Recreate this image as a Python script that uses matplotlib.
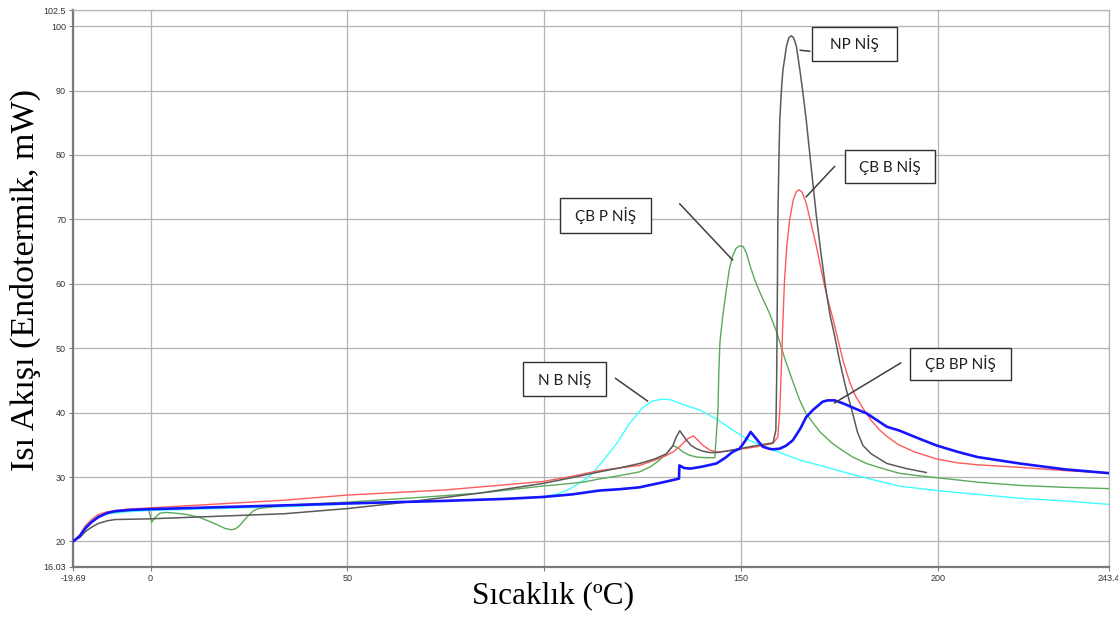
import matplotlib
matplotlib.use("Agg")
import matplotlib.pyplot as plt
from matplotlib.patches import Rectangle

# ---- datos ----
x_np = [-19.69, -18, -16.6, -15, -13.2, -11, -9, -0.5, 34, 50, 65, 83.6, 99.6, 107, 114,
        119, 124.2, 128, 131, 132.6, 133.5, 134.4, 135.2, 136.1, 137.3, 138.6, 140.3, 142,
        144, 146, 149.6, 154, 158.1, 158.8, 159.0, 159.2, 159.3, 159.6, 159.8, 160.2,
        160.6, 161.5, 162.1, 162.7, 163.3, 164, 164.9, 165.7, 166.5, 167.7, 169, 170.2,
        171.4, 172.6, 173.7, 175, 176.5, 178.3, 179.5, 180.9, 183, 187, 192, 197]
y_np = [20, 20.6, 21.5, 22.2, 22.8, 23.2, 23.4, 23.5, 24.3, 25.1, 26.1, 27.5, 29.0, 29.9, 30.8,
        31.4, 32.1, 32.8, 33.6, 34.8, 36.2, 37.2, 36.5, 35.7, 34.9, 34.4, 34.0, 33.8,
        33.8, 34.0, 34.4, 34.9, 35.3, 37.3, 45.0, 60.0, 69.9, 80.0, 85.5, 90.0,
        93.2, 96.9, 98.2, 98.5, 98.2, 96.9, 93.2, 89.5, 85.5, 78.5, 71.0, 65.0,
        59.5, 55.0, 52.0, 48.0, 44.0, 39.9, 37.0, 34.9, 33.6, 32.1, 31.3, 30.7]

x_cbb = [-19.69, -18, -16.6, -15, -13.2, -11, -6, -0.5, 34, 50, 75, 99.6, 107, 114, 119,
         124.2, 128, 130.5, 132.7, 134.5, 136.3, 137.8, 139, 140.3, 142, 143.7, 146, 149.6,
         154, 158, 159.3, 159.8, 160.2, 160.6, 161.0, 161.6, 162.3, 163.2, 164.0, 164.7,
         165.5, 166.5, 167.5, 169.1, 170.7, 172, 173.2, 174.5, 176, 177.5, 179, 181, 183,
         185, 187, 190, 194, 199.6, 205, 210, 220.7, 232, 243.4]
y_cbb = [20, 21.0, 22.4, 23.4, 24.2, 24.6, 25.0, 25.2, 26.4, 27.2, 28.0, 29.3, 30.1, 31.0, 31.4,
         31.8, 32.6, 33.2, 33.9, 34.8, 35.9, 36.4, 35.7, 34.9, 34.2, 33.9, 34.0, 34.3,
         34.7, 35.2, 36.2, 40.4, 47.0, 54.4, 60.6, 66.0, 69.9, 73.0, 74.3, 74.6,
         74.2, 72.5, 70.0, 65.8, 61.0, 57.5, 54.8, 51.5, 47.8, 44.8, 42.6, 40.6, 38.8,
         37.4, 36.3, 35.0, 33.9, 32.8, 32.2, 31.9, 31.5, 31.0, 30.6]

x_cbp = [-19.69, -18, -16.6, -15, -13.2, -11, -6, -0.5, 0.3, 1.3, 2.4, 4, 6.2, 9, 12.1, 15,
         17.2, 19, 20.6, 21.7, 22.7, 23.8, 24.8, 26, 27.4, 34, 50, 70, 83.6, 99.6, 105,
         109.8, 114, 119, 124.2, 127, 129, 131, 132.7, 134, 135.2, 136.8, 138.6, 141, 143.3,
         144.1, 144.3, 144.6, 145.3, 146.2, 147.0, 147.8, 148.7, 149.6, 150.5, 151.3, 152.3,
         153.5, 155, 157.2, 159, 161, 163, 164.8, 166.5, 168, 170, 173.2, 176, 178.3, 181.8,
         186, 190, 195, 199.6, 210, 220.7, 232, 243.4]
y_cbp = [20, 20.8, 22.0, 23.0, 23.9, 24.4, 24.8, 25.0, 23.0, 23.8, 24.4, 24.5, 24.4, 24.2, 23.8, 23.1,
         22.5, 22.0, 21.8, 22.0, 22.5, 23.3, 24.0, 24.7, 25.1, 25.6, 26.1, 26.9, 27.5, 28.6, 28.9,
         29.2, 29.7, 30.2, 30.8, 31.6, 32.5, 33.6, 34.9, 34.5, 33.9, 33.4, 33.1, 33.0, 33.0,
         40.4, 46.0, 51.0, 54.9, 59.0, 62.3, 64.3, 65.5, 65.9, 65.8, 64.8, 62.7,
         60.5, 58.3, 55.4, 52.5, 48.5, 45.0, 42.0, 39.8, 38.6, 37.0, 35.2, 34.0, 33.1, 32.1,
         31.3, 30.6, 30.2, 29.9, 29.2, 28.7, 28.4, 28.2]

x_nb = [-19.69, -18, -16.6, -15, -13.2, -11, -6, -0.5, 34, 50, 75, 99.6, 103, 105.7, 108.5,
        110.5, 112.3, 115, 118.4, 121.5, 125, 127.5, 130, 132, 135, 139.5, 144, 147.8, 152,
        158, 165, 170, 180, 190, 199.6, 210, 220.7, 232, 243.4]
y_nb = [20, 20.8, 22.0, 23.0, 23.8, 24.3, 24.6, 24.8, 25.4, 25.8, 26.3, 26.9, 27.3, 27.9, 28.9,
        29.7, 30.6, 32.6, 35.2, 38.2, 40.8, 41.8, 42.1, 42.0, 41.3, 40.4, 38.9, 37.3, 35.7,
        34.2, 32.6, 31.8, 30.1, 28.6, 27.9, 27.3, 26.7, 26.3, 25.75]

x_cbbp = [-19.69, -18, -16.6, -15, -13.2, -11, -9, -5, -0.5, 16.4, 34, 50, 75, 90, 99.6, 107,
          114, 119, 124.2, 128, 131, 134.2, 134.3, 135.5, 137, 140, 143.7, 146, 147.8, 149.6,
          151, 152.4, 154, 155.5, 157, 158, 159.8, 161.5, 163.1, 165, 166.5, 168.2, 170.7,
          172, 173.7, 176, 179, 181.8, 187, 190.2, 195, 199.6, 205, 210, 220.7, 232, 243.4]
y_cbbp = [20, 20.8, 22.0, 23.0, 23.8, 24.4, 24.7, 24.9, 25.0, 25.3, 25.6, 25.9, 26.3, 26.6, 26.9, 27.3,
          27.9, 28.1, 28.4, 28.9, 29.3, 29.75, 31.8, 31.4, 31.3, 31.6, 32.1, 33.0, 33.9, 34.4,
          35.6, 37.0, 35.8, 34.7, 34.4, 34.3, 34.4, 34.9, 35.7, 37.5, 39.3, 40.4, 41.7,
          41.9, 41.9, 41.4, 40.6, 39.9, 37.8, 37.2, 36.0, 34.9, 33.9, 33.1, 32.1, 31.2, 30.6]

x_ticks = [-19.69, 0, 50, 100, 150, 200, 243.4]
# la etiqueta "100" queda tapada por el titulo del eje en el original
x_tick_labels = ["-19.69", "0", "50", "", "150", "200", "243.4"]
y_ticks = [16.03, 20, 30, 40, 50, 60, 70, 80, 90, 100, 102.5]
y_tick_labels = ["16.03", "20", "30", "40", "50", "60", "70", "80", "90", "100", "102.5"]

# etiquetas: texto, caja (x0, x1, y0, y1), linea guia (xa, ya, xb, yb)
etiquetas = [
    ("NP NİŞ", (168.0, 189.5, 94.65, 99.9), (165.0, 96.25, 167.4, 96.1)),
    ("ÇB B NİŞ", (176.3, 199.3, 75.6, 80.7), (173.7, 78.2, 166.5, 73.5)),
    ("ÇB P NİŞ", (103.9, 127.2, 67.85, 73.3), (134.4, 72.4, 147.8, 63.7)),
    ("N B NİŞ", (94.5, 115.6, 42.55, 47.8), (118.1, 45.3, 126.2, 41.8)),
    ("ÇB BP NİŞ", (192.9, 218.6, 45.0, 50.1), (190.5, 47.7, 173.7, 41.5)),
]

fig = plt.figure(figsize=(11.18, 6.17), dpi=100)
ax = fig.add_axes([73 / 1118, 50 / 617, (1109 - 73) / 1118, (567 - 10) / 617])

ax.plot(x_nb, y_nb, color="#40ffff", lw=1.0, zorder=3)
ax.plot(x_cbp, y_cbp, color="#5aaa5a", lw=1.0, zorder=3)
ax.plot(x_cbb, y_cbb, color="#ff5a5a", lw=1.0, zorder=3)
ax.plot(x_np, y_np, color="#5a5a5a", lw=1.1, zorder=4)
ax.plot(x_cbbp, y_cbbp, color="#1515ff", lw=1.9, zorder=5)

ax.set_xlim(-19.69, 243.4)
ax.set_ylim(16.03, 102.5)
ax.set_xticks(x_ticks)
ax.set_xticklabels(x_tick_labels, fontsize=6.5, family="Liberation Sans", color="#333333")
ax.set_yticks(y_ticks)
ax.set_yticklabels(y_tick_labels, fontsize=6.5, family="Liberation Sans", color="#333333")
ax.tick_params(length=3, width=0.8, color="#808080", pad=2)
ax.grid(True, color="#b4b4b4", lw=0.9, zorder=0)
ax.set_axisbelow(True)

for lado in ["left", "bottom"]:
    ax.spines[lado].set_color("#7a7a7a")
    ax.spines[lado].set_linewidth(1.6)
for lado in ["top", "right"]:
    ax.spines[lado].set_color("#b4b4b4")
    ax.spines[lado].set_linewidth(0.9)

for texto, caja, guia in etiquetas:
    x0, x1, y0, y1 = caja
    ax.add_patch(Rectangle((x0, y0), x1 - x0, y1 - y0, facecolor="white",
                           edgecolor="#303030", lw=1.0, zorder=6))
    ax.text((x0 + x1) / 2, (y0 + y1) / 2, texto, ha="center", va="center",
            fontsize=11, family="Lato", color="#202020", zorder=7)
    ax.plot([guia[0], guia[2]], [guia[1], guia[3]], color="#404040", lw=1.1, zorder=6)

fig.text(25 / 1118, 1 - 280 / 617, "Isı Akışı (Endotermik, mW)", rotation=90,
         ha="center", va="center", fontsize=24.5, family="Liberation Serif")
fig.text(553 / 1118, 1 - 596 / 617, "Sıcaklık (ºC)", ha="center", va="center",
         fontsize=22.5, family="Liberation Serif")

fig.savefig("out.png", dpi=100)
